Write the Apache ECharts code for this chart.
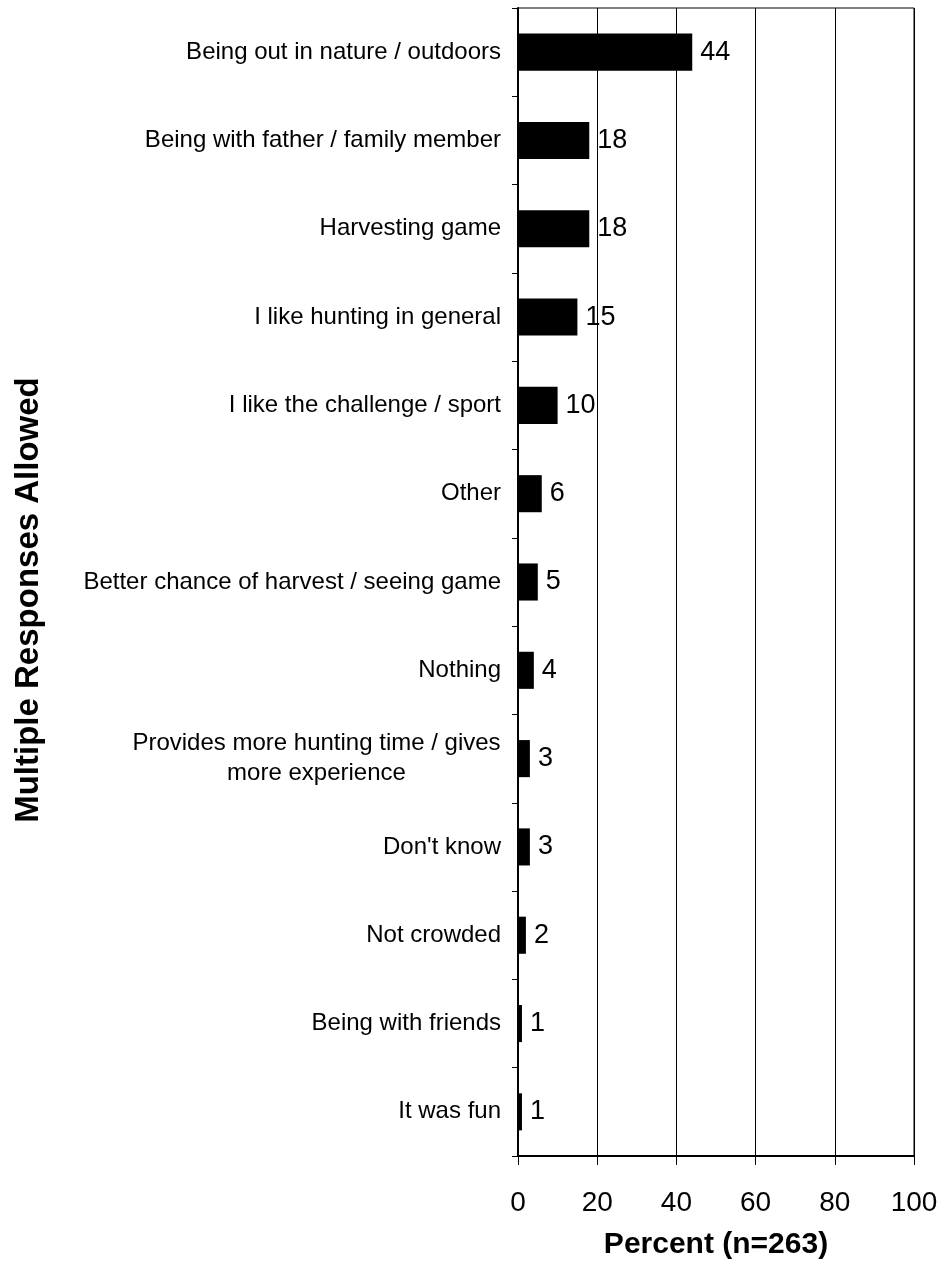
<!DOCTYPE html>
<html>
<head>
<meta charset="utf-8">
<script src="https://cdn.jsdelivr.net/npm/echarts@6/dist/echarts.min.js"></script>
<style>html,body{margin:0;padding:0;background:#fff;}#c{width:942px;height:1266px;}</style>
</head>
<body>
<div id="c"></div>
<script>
const categories = [
  "Being out in nature / outdoors",
  "Being with father / family member",
  "Harvesting game",
  "I like hunting in general",
  "I like the challenge / sport",
  "Other",
  "Better chance of harvest / seeing game",
  "Nothing",
  "Provides more hunting time / gives\nmore experience",
  "Don't know",
  "Not crowded",
  "Being with friends",
  "It was fun"
];
const values = [44, 18, 18, 15, 10, 6, 5, 4, 3, 3, 2, 1, 1];
const xTicks = [0, 20, 40, 60, 80, 100];
const xTitle = "Percent (n=263)";
const yTitle = "Multiple Responses Allowed";

const FONT = "'Liberation Sans', Arial, sans-serif";
const CAT_SIZE = 24;

// measure text to center lines of multi-line labels within their block
const mctx = document.createElement('canvas').getContext('2d');
mctx.font = CAT_SIZE + "px 'Liberation Sans'";
const catRich = { c: { width: 380, align: 'center', fontFamily: FONT, fontSize: CAT_SIZE, color: '#000', lineHeight: 30 } };
function catFormatter(v) {
  const lines = String(v).split('\n');
  if (lines.length < 2) return v;
  const w = Math.ceil(Math.max.apply(null, lines.map(l => mctx.measureText(l).width)));
  catRich.c.width = w;
  return lines.map(l => '{c|' + l + '}').join('\n');
}
categories.forEach(c => { if (c.indexOf('\n') >= 0) catFormatter(c); });

const chart = echarts.init(document.getElementById('c'));
chart.setOption({
  animation: false,
  grid: { left: 518, right: 28, top: 8, bottom: 110, show: true, borderColor: '#000', borderWidth: 1, backgroundColor: 'transparent' },
  xAxis: {
    type: 'value', min: xTicks[0], max: xTicks[xTicks.length - 1], interval: 20,
    name: xTitle, nameLocation: 'middle', nameGap: 74,
    nameTextStyle: { fontFamily: FONT, fontSize: 30, fontWeight: 'bold', color: '#000' },
    axisLine: { show: true, lineStyle: { color: '#000', width: 2 } },
    axisTick: { show: true, length: 9, lineStyle: { color: '#000', width: 1 } },
    axisLabel: { fontFamily: FONT, fontSize: 28, color: '#000', margin: 33 },
    splitLine: { show: true, lineStyle: { color: '#000', width: 1 } }
  },
  yAxis: {
    type: 'category', data: categories, inverse: true,
    name: yTitle, nameLocation: 'middle', nameGap: 473,
    nameTextStyle: { fontFamily: FONT, fontSize: 33, fontWeight: 'bold', color: '#000', padding: [0, 36, 0, 0] },
    axisLine: { show: true, lineStyle: { color: '#000', width: 2 } },
    axisTick: { show: true, length: 6, alignWithLabel: false, lineStyle: { color: '#000', width: 1 } },
    axisLabel: { fontFamily: FONT, fontSize: CAT_SIZE, color: '#000', margin: 17, align: 'right', lineHeight: 30, formatter: catFormatter, rich: catRich },
    splitLine: { show: false }
  },
  series: [{
    type: 'bar', data: values, barCategoryGap: '58%',
    itemStyle: { color: '#000' },
    label: { show: true, position: 'right', distance: 8, fontFamily: FONT, fontSize: 27, color: '#000' }
  }]
});
</script>
</body>
</html>
